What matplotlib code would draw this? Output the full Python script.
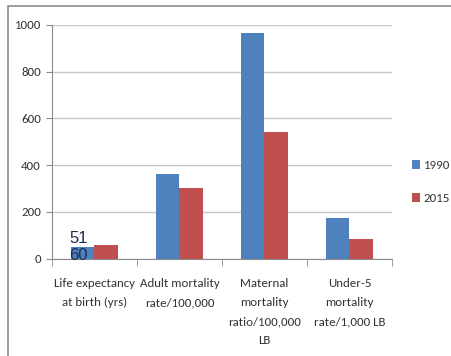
import numpy as np
import matplotlib.pyplot as plt
from matplotlib import font_manager as fm
from matplotlib.patches import Rectangle

# indicators and values
categories = ["Life expectancy\nat birth (yrs)", "Adult mortality\nrate/100,000",
              "Maternal\nmortality\nratio/100,000\nLB", "Under-5\nmortality\nrate/1,000 LB"]
values_1990 = [51, 362, 967, 175]
values_2015 = [60, 301, 543, 83]
series_labels = ["1990", "2015"]
yticks = [0, 200, 400, 600, 800, 1000]

BLUE = "#4F81BD"
RED = "#C0504D"
TEXT = "#333333"

installed = {f.name for f in fm.fontManager.ttflist}
if "Carlito" in installed:
    plt.rcParams["font.family"] = ["Carlito", "DejaVu Sans"]
    base = 9.3
else:
    plt.rcParams["font.family"] = ["DejaVu Sans"]
    plt.rcParams["font.stretch"] = "condensed"
    base = 8

fig = plt.figure(figsize=(4.52, 3.56), dpi=100)
ax = fig.add_axes([0.115, 0.2733, 0.752, 0.6565])

# outer chart frame
fig.patches.append(Rectangle((8 / 452, -0.05), 1.2, 1 - 6 / 356 + 0.05,
                             transform=fig.transFigure, fill=False,
                             edgecolor="#8c8c8c", linewidth=1.2))

x = np.arange(len(categories))
w = 0.28
b1 = ax.bar(x - w / 2, values_1990, w, color=BLUE, label=series_labels[0], zorder=3)
b2 = ax.bar(x + w / 2, values_2015, w, color=RED, label=series_labels[1], zorder=3)

# value labels on the first group
lbl = dict(ha="center", va="center", color="#1F2D4E", fontsize=12,
           family="Liberation Sans", textcoords="offset points", zorder=4)
ax.annotate(str(values_1990[0]), (x[0] - w / 2, values_1990[0]), xytext=(-3, 6), **lbl)
ax.annotate(str(values_2015[0]), (x[0] - w / 2, values_1990[0]), xytext=(-3, -6.5), **lbl)

ax.set_ylim(0, 1000)
ax.set_xlim(-0.5, 3.5)
ax.set_yticks(yticks)
ax.yaxis.grid(True, color="#c8c8c8", linewidth=1, zorder=0)
ax.tick_params(axis="y", length=4, color="#8c8c8c", labelsize=base, labelcolor=TEXT, pad=4)

# category labels centered, ticks at group boundaries
ax.set_xticks(x)
ax.set_xticklabels(categories, fontsize=base, color=TEXT, linespacing=1.9)
ax.tick_params(axis="x", length=0, pad=14)
ax.set_xticks(np.arange(-0.5, 4, 1), minor=True)
ax.tick_params(axis="x", which="minor", length=5, color="#8c8c8c")

for s in ["top", "right"]:
    ax.spines[s].set_visible(False)
ax.spines["left"].set_color("#8c8c8c")
ax.spines["bottom"].set_color("#8c8c8c")

fig.legend(handles=[b1, b2], loc="center left", bbox_to_anchor=(412 / 452, 1 - 182 / 356),
           frameon=False, fontsize=base, handlelength=0.6, handleheight=0.6,
           handletextpad=0.3, labelspacing=1.7, borderpad=0, borderaxespad=0,
           labelcolor=TEXT)

fig.savefig("out.png", dpi=100)
